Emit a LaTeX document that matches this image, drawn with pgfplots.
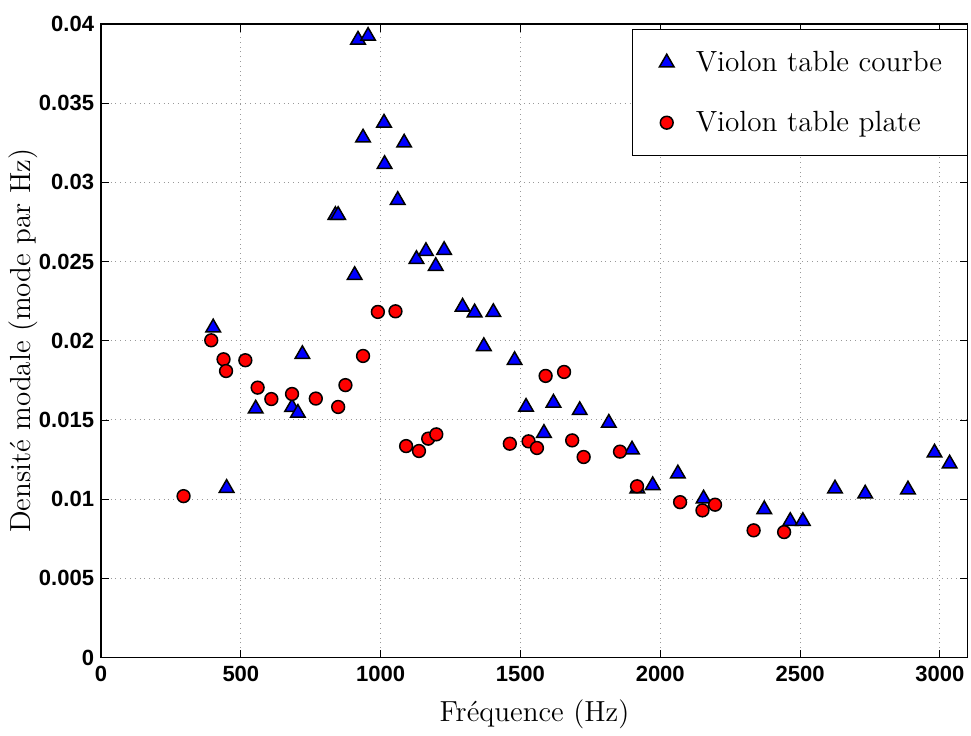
\documentclass[border=0pt]{standalone}
\usepackage{fontspec}
\usepackage{pgfplots}
\pgfplotsset{compat=1.18}
\newfontfamily\tickfont{Liberation Sans}

\begin{document}
\begin{tikzpicture}
\begin{axis}[
    scale only axis,
    width=433pt, height=316.5pt,
    xmin=0, xmax=3100,
    ymin=0, ymax=0.04,
    xtick={0,500,1000,1500,2000,2500,3000},
    ytick={0,0.005,0.01,0.015,0.02,0.025,0.03,0.035,0.04},
    scaled y ticks=false,
    scaled x ticks=false,
    /pgf/number format/assume math mode=true,
    yticklabel style={/pgf/number format/fixed, /pgf/number format/precision=3},
    xticklabel style={/pgf/number format/1000 sep={}, yshift=-1pt},
    ticklabel style={font=\fontsize{11}{13}\selectfont\tickfont\bfseries},
    tick align=inside,
    major tick length=4pt,
    axis line style={line width=0.6pt},
    every tick/.style={black, line width=0.4pt},
    grid=major,
    grid style={dotted, gray!80, line width=0.5pt},
    xlabel={Fréquence (Hz)},
    ylabel={Densité modale (mode par Hz)},
    label style={font=\fontsize{14.5}{17}\selectfont},
    xlabel style={at={(axis description cs:0.5,0)}, anchor=center, yshift=-28.5pt},
    ylabel style={at={(axis description cs:0,0.5)}, anchor=center, yshift=39pt},
    legend image code/.code={
        \path[draw=none, fill=none] (-4.5pt,-15pt) rectangle (14.5pt,15pt);
        \draw[mark repeat=2, mark phase=2, #1] plot coordinates {(-1pt,0pt) (0pt,0pt) (1pt,0pt)};
    },
    legend style={at={(1,1)}, anchor=north east, yshift=-2.5pt,
        font=\fontsize{14.6}{17}\selectfont, draw=black, line width=0.6pt,
        inner xsep=12.5pt, inner ysep=1.5pt, row sep=0pt, column sep=0pt,
        nodes={inner sep=0pt, draw=none}, cells={anchor=west}},
    legend cell align=left,
]

\addplot[only marks, mark=triangle*, mark size=4.2pt,
    mark options={fill=blue, draw=black, line width=0.75pt}]
coordinates {
    (401,0.02083) (449,0.0107) (553,0.01571) (683,0.0158) (704,0.01544)
    (720,0.01915) (838,0.02793) (848,0.02793) (907,0.02414) (919,0.0390)
    (937,0.03282) (955,0.03924) (1012,0.03376) (1014,0.03115) (1061,0.02888)
    (1084,0.0325) (1128,0.02515) (1162,0.02565) (1197,0.02471) (1227,0.02572)
    (1293,0.02214) (1336,0.02178) (1403,0.0218) (1369,0.01965) (1479,0.01877)
    (1520,0.01582) (1584,0.01417) (1618,0.01608) (1712,0.01561) (1816,0.01481)
    (1899,0.01312) (1918,0.01066) (1973,0.01087) (2063,0.01161) (2155,0.01003)
    (2372,0.00935) (2465,0.00861) (2510,0.00861) (2625,0.01066) (2733,0.01034)
    (2886,0.0106) (2981,0.01293) (3035,0.01224)
};

\addplot[only marks, mark=*, mark size=3.2pt,
    mark options={fill=red, draw=black, line width=0.75pt}]
coordinates {
    (295,0.01019) (394,0.02003) (438,0.01883) (447,0.01809) (516,0.01877)
    (560,0.01704) (609,0.01632) (683,0.01664) (768,0.01635) (848,0.01582)
    (874,0.0172) (937,0.01904) (990,0.02182) (1053,0.02186) (1091,0.01335)
    (1137,0.01304) (1170,0.01382) (1199,0.01409) (1462,0.0135) (1529,0.01365)
    (1559,0.01323) (1590,0.01778) (1656,0.01803) (1685,0.01371) (1726,0.01266)
    (1856,0.013) (1917,0.01081) (2071,0.00981) (2151,0.00929) (2196,0.00965)
    (2334,0.00803) (2443,0.00792)
};
\legend{Violon table courbe, Violon table plate}
\end{axis}
\path (current axis.south west) ++(-50.5pt,-36pt) coordinate (bbsw);
\path (current axis.north east) ++(1.5pt,12pt) coordinate (bbne);
\path (bbsw) rectangle (bbne);
\end{tikzpicture}
\end{document}
